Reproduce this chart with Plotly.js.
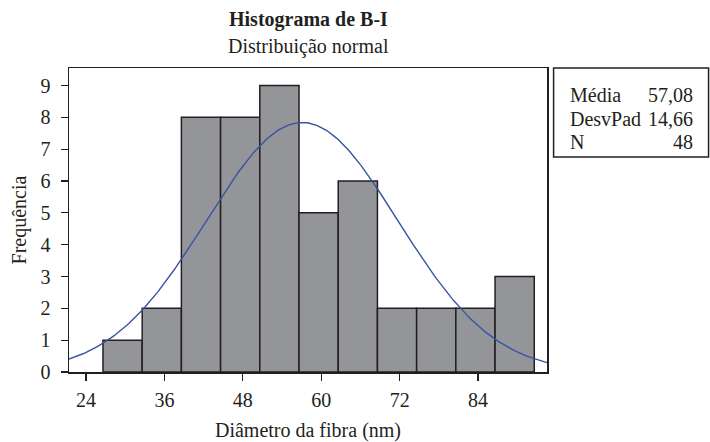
<!DOCTYPE html>
<html><head><meta charset="utf-8">
<script src="https://cdn.plot.ly/plotly-3.0.1.min.js"></script>
<style>body{margin:0;background:#fff}#c{width:710px;height:442px}</style>
</head><body><div id="c"></div>
<script>
// Histogram bins (centres, nm) and counts
const binCenters = [29.6, 35.6, 41.6, 47.6, 53.6, 59.6, 65.6, 71.6, 77.6, 83.6, 89.6];
const counts = [1, 2, 8, 8, 9, 5, 6, 2, 2, 2, 3];
const binWidth = 6;
// Summary statistics shown in the box
const statLabels = ["Média", "DesvPad", "N"];
const statValues = ["57,08", "14,66", "48"];
const mean = 57.08, sd = 14.66, n = 48;
const xTicks = [24, 36, 48, 60, 72, 84];
const yTicks = [0,1,2,3,4,5,6,7,8,9];

// Fitted normal curve (scaled to counts) from the shown mean/sd/N
const cx = [], cy = [];
for (let x = 21.3; x <= 94.7; x += 0.25) {
  cx.push(x);
  cy.push(n * binWidth * Math.exp(-0.5 * Math.pow((x - mean) / sd, 2)) / (sd * Math.sqrt(2 * Math.PI)));
}

const font = "Liberation Serif";
const ink = "#231f20";
const traces = [
  {type: "bar", x: binCenters, y: counts, width: binWidth,
   marker: {color: "#939598", line: {color: ink, width: 1.5}}, hoverinfo: "none"},
  {type: "scatter", mode: "lines", x: cx, y: cy, line: {color: "#3953a4", width: 1.4}, hoverinfo: "none"}
];

const annotations = [
  {xref: "paper", yref: "paper", x: 0.5, y: 1, xanchor: "center", yanchor: "bottom",
   text: "<b>Histograma de B-I</b>", showarrow: false, font: {family: font, size: 20, color: ink}, yshift: 35},
  {xref: "paper", yref: "paper", x: 0.5, y: 1, xanchor: "center", yanchor: "bottom",
   text: "Distribuição normal", showarrow: false, font: {family: font, size: 20, color: ink}, yshift: 8}
];
const rowY = [0.912, 0.8333, 0.7577];
statLabels.forEach((s, i) => {
  annotations.push({xref: "paper", yref: "paper", x: 1.0446, y: rowY[i], xanchor: "left", yanchor: "middle",
    text: s, showarrow: false, font: {family: font, size: 20, color: ink}});
  annotations.push({xref: "paper", yref: "paper", x: 1.31, y: rowY[i], xanchor: "right", yanchor: "middle",
    text: statValues[i], showarrow: false, font: {family: font, size: 20, color: ink}});
});

const layout = {
  width: 710, height: 442,
  margin: {l: 69, r: 163, t: 68, b: 70},
  paper_bgcolor: "#fff", plot_bgcolor: "#fff",
  showlegend: false, bargap: 0,
  font: {family: font, size: 20, color: ink},
  xaxis: {range: [21.4, 94.55], tickvals: xTicks, ticks: "outside", ticklen: 7, tickcolor: ink, tickwidth: 1.2,
    showline: true, linecolor: ink, linewidth: 1.5, mirror: true, showgrid: false, zeroline: false,
    ticklabelstandoff: 2,
    title: {text: "Diâmetro da fibra (nm)", font: {family: font, size: 20}, standoff: 13},
    tickfont: {family: font, size: 20}},
  yaxis: {range: [0, 9.55], tickvals: yTicks, ticks: "outside", ticklen: 7, tickcolor: ink, tickwidth: 1.2,
    showline: true, linecolor: ink, linewidth: 1.5, mirror: true, showgrid: false, zeroline: false,
    ticklabelstandoff: 6,
    title: {text: "Frequência", font: {family: font, size: 20}, standoff: 8},
    tickfont: {family: font, size: 20}},
  shapes: [{type: "rect", xref: "paper", yref: "paper", x0: 1.0138, x1: 1.338, y0: 0.7074, y1: 1.0,
    line: {color: ink, width: 1.5}, fillcolor: "rgba(0,0,0,0)"}],
  annotations: annotations
};
Plotly.newPlot("c", traces, layout, {displayModeBar: false, staticPlot: true});
</script></body></html>
